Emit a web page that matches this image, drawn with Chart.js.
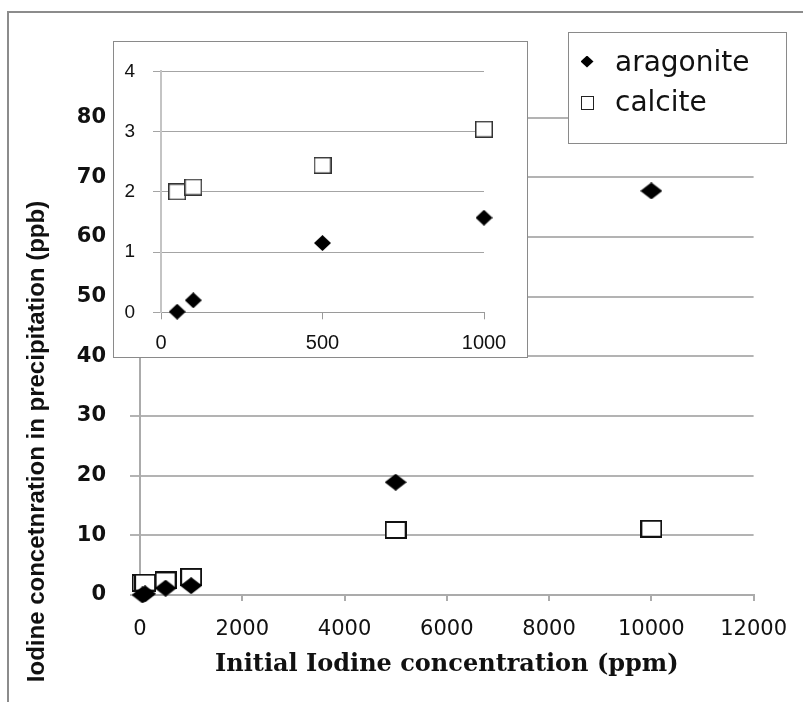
<!DOCTYPE html>
<html>
<head>
<meta charset="utf-8">
<title>Iodine concentration in precipitation</title>
<script src="https://cdn.jsdelivr.net/npm/chart.js@4/dist/chart.umd.min.js"></script>
<style>
  html, body { margin: 0; padding: 0; background: #fff; }
  body { width: 803px; height: 702px; position: relative; overflow: hidden; }
  #main { position: absolute; left: 0; top: 0; }
  #frame { position: absolute; left: 7px; top: 11px; width: 900px; height: 800px;
           border: 2px solid #8c8c8c; box-sizing: border-box; }
  #insetBox { position: absolute; left: 113px; top: 41px; width: 415px; height: 317px;
              border: 1px solid #8a8a8a; box-sizing: border-box; background: #fff; }
  #inset { display: block; }
  #legend { position: absolute; left: 568px; top: 32px; width: 219px; height: 112px;
            border: 1px solid #8a8a8a; box-sizing: border-box; background: #fff;
            font: 28px "DejaVu Sans", sans-serif; color: #111; }
  .row { position: absolute; left: 0; height: 40px; display: flex; align-items: center; white-space: nowrap; }
  .mark { position: absolute; }
  .diamond { width: 13px; height: 12px; background: #000;
             clip-path: polygon(50% 0, 100% 50%, 50% 100%, 0 50%); }
  .square { width: 13px; height: 14px; border: 1.5px solid #222; box-sizing: border-box; background: #fff; }
  .label { position: absolute; left: 46px; }
</style>
</head>
<body>
<canvas id="main" width="803" height="702"></canvas>
<div id="frame"></div>
<div id="insetBox"><canvas id="inset" width="413" height="315"></canvas></div>
<div id="legend"></div>

<script>
// Initial iodine concentration (ppm) of each experiment
const concentrations = [50, 100, 500, 1000, 5000, 10000];
// Iodine found in the precipitate (ppb)
const aragonite = [0.01, 0.2, 1.15, 1.57, 18.9, 67.7];
const calcite   = [2.0, 2.08, 2.44, 3.04, 10.9, 11.1];
const seriesNames = ['aragonite', 'calcite'];

// Axis ticks
const mainXTicks  = [0, 2000, 4000, 6000, 8000, 10000, 12000];
const mainYTicks  = [0, 10, 20, 30, 40, 50, 60, 70, 80];
const insetXTicks = [0, 500, 1000];
const insetYTicks = [0, 1, 2, 3, 4];
const insetMaxConc = 1000;

const xTitle = 'Initial Iodine concentration (ppm)';
const yTitle = 'Iodine concetnration in precipitation (ppb)';

// Marker images
function diamondMark(w, h) {
  const c = document.createElement('canvas');
  c.width = w; c.height = h;
  const g = c.getContext('2d');
  g.fillStyle = '#000';
  g.beginPath();
  g.moveTo(w / 2, 0); g.lineTo(w, h / 2); g.lineTo(w / 2, h); g.lineTo(0, h / 2);
  g.closePath(); g.fill();
  return c;
}
function squareMark(w, h, lw, color) {
  const c = document.createElement('canvas');
  c.width = w; c.height = h;
  const g = c.getContext('2d');
  g.fillStyle = '#fff';
  g.fillRect(0, 0, w, h);
  g.strokeStyle = color; g.lineWidth = lw;
  g.strokeRect(lw / 2, lw / 2, w - lw, h - lw);
  return c;
}

const points = (xs, ys) => xs.map((x, i) => ({ x, y: ys[i] }));
const tickSetter = list => scale => { scale.ticks = list.map(v => ({ value: v })); };
const plain = v => String(v);

// Rotated caption along the left side of the main chart
const sideCaption = {
  id: 'sideCaption',
  afterDraw(chart, args, opts) {
    const ctx = chart.ctx;
    ctx.save();
    ctx.translate(opts.x, opts.y);
    ctx.rotate(-Math.PI / 2);
    ctx.font = opts.font;
    ctx.fillStyle = opts.color;
    ctx.textAlign = 'center';
    ctx.textBaseline = 'middle';
    ctx.fillText(opts.text, 0, 0);
    ctx.restore();
  }
};

const gridGray = '#ababab';

new Chart(document.getElementById('main'), {
  type: 'scatter',
  data: {
    datasets: [
      { label: seriesNames[0], data: points(concentrations, aragonite), clip: false,
        pointStyle: diamondMark(22, 17), pointRadius: 11 },
      { label: seriesNames[1], data: points(concentrations, calcite), clip: false,
        pointStyle: squareMark(22, 18, 2, '#111'), pointRadius: 11 }
    ]
  },
  options: {
    responsive: false,
    animation: false,
    events: [],
    layout: { padding: { left: 0, right: 49, top: 117.5, bottom: 7 } },
    plugins: {
      legend: { display: false },
      tooltip: { enabled: false },
      sideCaption: { text: yTitle, x: 37.5, y: 441.5, color: '#111',
                     font: 'bold 24px "Liberation Sans", Arial, sans-serif' }
    },
    scales: {
      x: {
        type: 'linear', min: 0, max: 12000,
        afterBuildTicks: tickSetter(mainXTicks),
        afterFit: s => { s.height = 100; },
        grid: { drawOnChartArea: false, drawTicks: true, tickLength: 6, color: gridGray, lineWidth: 2 },
        border: { display: true, color: gridGray, width: 2 },
        ticks: { padding: 16, color: '#111', maxRotation: 0, callback: plain,
                 font: { family: 'DejaVu Sans', size: 21 } },
        title: { display: true, text: xTitle, color: '#111',
                 font: { family: 'DejaVu Serif', size: 24, weight: 'bold' },
                 padding: { top: 0, bottom: 16 } }
      },
      y: {
        type: 'linear', min: 0, max: 80,
        afterBuildTicks: tickSetter(mainYTicks),
        afterFit: s => { s.width = 140; },
        grid: { color: '#b3b3b3', lineWidth: 2, tickLength: 10 },
        border: { display: true, color: gridGray, width: 2 },
        ticks: { padding: 24, color: '#111', callback: plain,
                 font: { family: 'DejaVu Sans', size: 21, weight: 'bold' } }
      }
    }
  },
  plugins: [sideCaption]
});

// Close-up of the low concentration range
const lowConc = concentrations.filter(c => c <= insetMaxConc);
new Chart(document.getElementById('inset'), {
  type: 'scatter',
  data: {
    datasets: [
      { label: seriesNames[0], data: points(lowConc, aragonite), clip: false,
        pointStyle: diamondMark(17, 16), pointRadius: 9 },
      { label: seriesNames[1], data: points(lowConc, calcite), clip: false,
        pointStyle: squareMark(18, 17, 1.5, '#333'), pointRadius: 9 }
    ]
  },
  options: {
    responsive: false,
    animation: false,
    events: [],
    layout: { padding: { left: 0, right: 43, top: 10.7, bottom: 4.7 } },
    plugins: { legend: { display: false }, tooltip: { enabled: false } },
    scales: {
      x: {
        type: 'linear', min: 0, max: insetMaxConc,
        afterBuildTicks: tickSetter(insetXTicks),
        afterFit: s => { s.height = 40; },
        grid: { drawOnChartArea: false, drawTicks: true, tickLength: 7, color: '#9a9a9a', lineWidth: 1 },
        border: { display: true, color: '#9a9a9a', width: 1 },
        ticks: { padding: 12, color: '#111', maxRotation: 0, callback: plain,
                 font: { family: 'Liberation Sans', size: 20 } }
      },
      y: {
        type: 'linear', min: 0, max: 4,
        afterBuildTicks: tickSetter(insetYTicks),
        afterFit: s => { s.width = 47; },
        grid: { color: '#a4a4a4', lineWidth: 1, tickLength: 8 },
        border: { display: true, color: '#c4c4c4', width: 2 },
        ticks: { padding: 18, color: '#111', callback: plain,
                 font: { family: 'Liberation Sans', size: 19 } }
      }
    }
  }
});

// Legend box
const legend = document.getElementById('legend');
const legendRows = [
  { name: seriesNames[0], cls: 'diamond', top: 8.5, markLeft: 11.5, markTop: 14 },
  { name: seriesNames[1], cls: 'square',  top: 48,  markLeft: 11.5, markTop: 15 }
];
legendRows.forEach(r => {
  const row = document.createElement('div');
  row.className = 'row';
  row.style.top = r.top + 'px';
  row.style.width = '100%';
  const mark = document.createElement('span');
  mark.className = 'mark ' + r.cls;
  mark.style.left = r.markLeft + 'px';
  mark.style.top = r.markTop + 'px';
  const label = document.createElement('span');
  label.className = 'label';
  label.textContent = r.name;
  row.appendChild(mark);
  row.appendChild(label);
  legend.appendChild(row);
});
</script>
</body>
</html>
